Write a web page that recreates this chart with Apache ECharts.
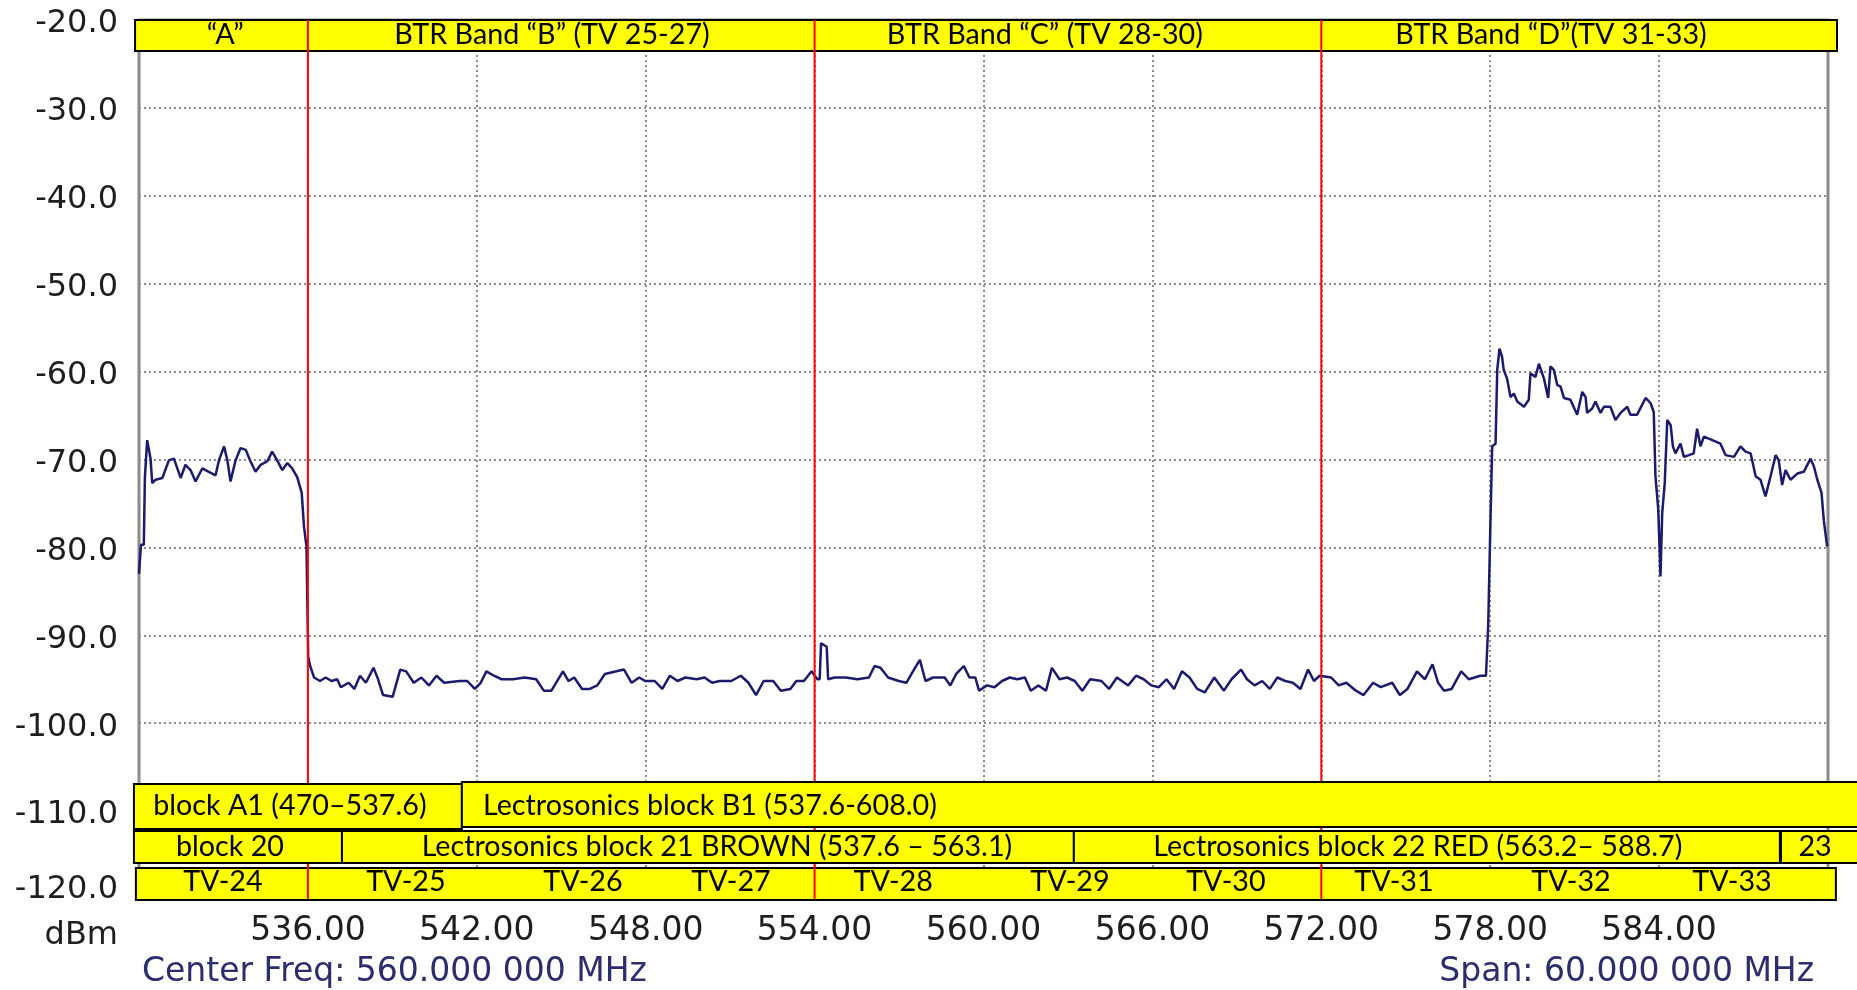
<!DOCTYPE html>
<html><head><meta charset="utf-8">
<script src="https://cdn.jsdelivr.net/npm/echarts@6/dist/echarts.min.js"></script>
<style>html,body{margin:0;padding:0;background:#fff;overflow:hidden}#c{width:1857px;height:990px}</style>
</head><body><div id="c"></div>
<script>
// ---------------- DATA ----------------
const traceMHz = [530.0,530.06,530.07,530.17,530.21,530.29,530.41,530.47,530.59,530.83,531.06,531.24,531.48,531.65,531.83,532.01,532.25,532.48,532.72,532.84,533.02,533.14,533.25,533.43,533.61,533.79,533.96,534.14,534.32,534.56,534.73,534.91,535.09,535.27,535.44,535.62,535.78,535.86,535.95,536.01,536.09,
536.22,536.43,536.63,536.84,537.04,537.17,537.45,537.65,537.85,538.06,538.33,538.47,538.67,539.01,539.28,539.49,539.76,540.03,540.30,540.57,540.84,541.39,541.66,541.93,542.14,542.34,542.61,542.88,543.29,543.70,544.11,544.38,544.65,545.06,545.26,545.46,545.74,546.01,546.28,546.55,546.96,547.23,547.50,547.77,547.98,548.32,548.59,548.86,549.13,549.41,549.81,550.09,550.36,550.63,551.04,551.38,551.65,551.92,552.19,552.53,552.80,553.14,553.35,553.62,553.89,554.10,554.18,554.23,554.43,554.48,554.71,555.11,555.52,555.93,556.13,556.34,556.61,556.99,
557.26,557.53,557.74,557.94,558.21,558.62,558.82,559.03,559.30,559.50,559.71,559.84,560.12,560.39,560.66,560.93,561.20,561.47,561.68,561.95,562.22,562.43,562.70,562.97,563.24,563.51,563.79,564.19,564.46,564.74,565.14,565.42,565.69,565.96,566.23,566.50,566.77,567.05,567.32,567.59,567.86,568.20,568.54,568.81,569.15,569.36,569.63,569.90,570.17,570.44,570.72,570.99,571.26,571.53,571.74,571.94,572.35,572.62,572.89,573.23,573.50,573.84,574.11,574.52,574.79,575.06,575.40,575.68,575.95,576.15,576.36,576.63,576.97,577.24,577.65,577.85,
577.93,578.01,578.07,578.19,578.25,578.33,578.42,578.48,578.60,578.72,578.84,578.96,579.20,579.37,579.43,579.61,579.73,579.91,580.06,580.14,580.26,580.38,580.50,580.62,580.85,581.09,581.27,581.39,581.44,581.62,581.74,581.92,582.04,582.27,582.45,582.63,582.87,582.98,583.22,583.52,583.70,583.81,583.87,583.97,584.05,584.11,584.20,584.29,584.41,584.49,584.58,584.76,584.88,585.06,585.23,585.35,585.47,585.59,585.89,586.18,586.36,586.66,586.89,587.07,587.25,587.43,587.60,587.78,587.96,588.14,588.25,588.37,588.49,588.67,588.91,589.14,589.38,589.50,589.62,589.77,589.85,589.97];
const traceDBm = [-83.0,-83.0,-79.7,-79.7,-72.0,-67.8,-69.9,-72.7,-72.3,-72.1,-70.1,-69.9,-72.1,-70.6,-71.2,-72.5,-71.0,-71.4,-71.8,-70.1,-68.5,-70.1,-72.5,-70.1,-68.7,-68.9,-70.2,-71.4,-70.6,-70.2,-69.1,-70.1,-71.2,-70.4,-71.0,-72.0,-73.8,-77.6,-79.9,-92.4,-93.6,
-94.8,-95.2,-94.8,-95.2,-95.0,-95.9,-95.4,-96.1,-94.6,-95.4,-93.7,-94.8,-96.8,-97.0,-93.9,-94.1,-95.4,-94.8,-95.7,-94.6,-95.4,-95.2,-95.2,-96.1,-95.4,-94.1,-94.6,-95.0,-95.0,-94.8,-95.0,-96.3,-96.3,-94.1,-95.2,-94.8,-96.1,-96.1,-95.7,-94.4,-94.1,-93.9,-95.4,-94.8,-95.2,-95.2,-96.1,-94.6,-95.2,-94.8,-95.0,-94.8,-95.4,-95.2,-95.2,-94.6,-95.4,-96.8,-95.2,-95.2,-96.3,-96.1,-95.2,-95.2,-94.1,-95.0,-95.0,-90.9,-91.3,-95.0,-94.8,-94.8,-95.0,-94.8,-93.5,-93.7,-94.8,-95.2,
-95.4,-93.9,-92.8,-95.2,-94.8,-94.8,-95.7,-94.4,-93.5,-94.8,-94.8,-96.3,-95.7,-95.9,-95.2,-94.8,-95.0,-94.8,-96.3,-95.7,-96.3,-93.7,-95.0,-94.8,-95.2,-96.3,-95.0,-95.2,-96.1,-94.8,-95.7,-94.6,-95.0,-95.7,-95.9,-95.0,-96.1,-94.1,-94.8,-96.1,-96.5,-94.8,-96.3,-95.0,-93.9,-95.0,-95.7,-95.2,-96.1,-94.8,-95.2,-95.4,-96.1,-93.9,-95.2,-94.6,-94.8,-95.7,-95.4,-96.3,-96.8,-95.4,-95.9,-95.4,-96.8,-96.1,-94.1,-95.0,-93.3,-95.4,-96.3,-96.1,-94.1,-95.0,-94.6,-94.6,
-88.8,-76.9,-68.5,-68.2,-59.8,-57.4,-58.3,-59.8,-60.8,-62.9,-62.5,-63.4,-64.0,-63.2,-60.2,-60.6,-59.1,-60.8,-63.0,-59.4,-59.8,-61.5,-61.7,-63.0,-63.2,-64.9,-62.3,-62.9,-64.7,-64.2,-63.4,-64.7,-64.0,-64.0,-65.5,-64.7,-64.0,-64.9,-64.9,-63.0,-63.6,-64.6,-71.9,-75.7,-83.3,-76.1,-72.7,-65.5,-66.1,-68.5,-69.3,-68.2,-69.7,-69.5,-69.3,-66.5,-68.5,-67.4,-67.8,-68.2,-69.5,-69.7,-68.5,-69.1,-69.3,-71.9,-72.3,-74.2,-71.9,-69.5,-70.1,-72.9,-71.2,-72.3,-71.6,-71.4,-69.9,-70.8,-72.3,-73.8,-76.9,-79.9];

const bandEdgesMHz = [536, 554, 572];
const topBandLabels = ['\u201CA\u201D', 'BTR Band \u201CB\u201D (TV 25-27)', 'BTR Band \u201CC\u201D (TV 28-30)', 'BTR Band \u201CD\u201D(TV 31-33)'];
const blockRow1Labels = ['block A1 (470\u2013537.6)', 'Lectrosonics block B1 (537.6-608.0)'];
const blockRow2Labels = ['block 20', 'Lectrosonics block 21 BROWN (537.6 \u2013 563.1)', 'Lectrosonics block 22 RED (563.2\u2013 588.7)', '23'];
const tvLabels = ['TV-24','TV-25','TV-26','TV-27','TV-28','TV-29','TV-30','TV-31','TV-32','TV-33'];
const yUnitLabel = 'dBm';
const footerLabels = ['Center Freq: 560.000 000 MHz', 'Span: 60.000 000 MHz'];

// ---------------- LAYOUT (axis units) ----------------
const L = {
  top:  { x: [529.86, 590.32], y: [-20, -23.53], tx: [533.06, 544.67, 562.18, 580.16], ty: -21.71 },
  row1: { boxes: [[529.82, 541.47, -106.92, -112.04], [541.47, 591.5, -106.69, -111.81]], tx: [535.36, 542.22], align: ['center', 'left'], ty: -109.42 },
  row2: { boxes: [[529.82, 537.21], [537.21, 563.21], [563.21, 588.29], [588.33, 591.5]], y: [-112.26, -115.9], tx: [533.23, 550.53, 575.43, 589.54], ty: -114.08 },
  tv:   { x: [529.89, 590.28], y: [-116.47, -120.11], tx: [532.98, 539.48, 545.77, 551.03, 556.79, 563.07, 568.61, 574.58, 580.87, 586.59], ty: -118.07 }
};
const BOX_FONT = 'Lato';
const BOX_SIZE = 28.7;

function box(api, x0, x1, y0, y1) {
  const a = api.coord([x0, y0]), b = api.coord([x1, y1]);
  return { type: 'rect', shape: { x: Math.min(a[0], b[0]), y: Math.min(a[1], b[1]), width: Math.abs(b[0] - a[0]), height: Math.abs(b[1] - a[1]) },
    style: { fill: '#ffff00', stroke: '#000', lineWidth: 2 } };
}
function label(api, text, x, y, align) {
  const p = api.coord([x, y]);
  return { type: 'text', x: p[0], y: p[1], style: { text: text, fill: '#000', fontSize: BOX_SIZE, fontFamily: BOX_FONT, align: align || 'center', verticalAlign: 'middle' } };
}

const chart = echarts.init(document.getElementById('c'), null, { renderer: 'canvas' });
const axisFont = 'DejaVu Sans';
const AX = 33;

chart.setOption({
  animation: false,
  backgroundColor: '#ffffff',
  grid: { left: 139, right: 29, top: 20, bottom: 91, show: true, borderColor: '#8a8a8a', borderWidth: 3, backgroundColor: 'transparent' },
  xAxis: {
    type: 'value', min: 530, max: 590, interval: 6,
    axisLine: { show: false }, axisTick: { show: false },
    splitLine: { show: true, lineStyle: { color: '#8c8c8c', width: 2, type: [2, 3] } },
    axisLabel: { showMinLabel: false, showMaxLabel: false, margin: 16, color: '#1e1e1e', fontFamily: axisFont, fontSize: AX,
      formatter: v => v.toFixed(2) }
  },
  yAxis: {
    type: 'value', min: -120, max: -20, interval: 10,
    axisLine: { show: false }, axisTick: { show: false },
    splitLine: { show: true, lineStyle: { color: '#8c8c8c', width: 2, type: [2, 3] } },
    axisLabel: { margin: 21, color: '#1e1e1e', fontFamily: axisFont, fontSize: 32,
      formatter: v => v === -120 ? '{lo|' + v.toFixed(1) + '}' : '{n|' + v.toFixed(1) + '}',
      rich: {
        n: { fontFamily: axisFont, fontSize: 32, color: '#1e1e1e', padding: [8, 0, 0, 0] },
        lo: { fontFamily: axisFont, fontSize: 32, color: '#1e1e1e', padding: [0, 0, 18, 0] }
      } }
  },
  graphic: [
    { type: 'text', right: 1857 - 118, top: 939 - 19, style: { text: yUnitLabel, fill: '#1e1e1e', font: '32px "DejaVu Sans"' } },
    { type: 'text', left: 142, top: 976 - 20, style: { text: footerLabels[0], fill: '#2b2d6e', font: AX + 'px "DejaVu Sans"' } },
    { type: 'text', right: 1857 - 1814, top: 976 - 20, style: { text: footerLabels[1], fill: '#2b2d6e', font: AX + 'px "DejaVu Sans"' } }
  ],
  series: [
    {
      type: 'line', z: 2, showSymbol: false, symbol: 'none', clip: true,
      data: traceMHz.map((f, i) => [f, traceDBm[i]]),
      lineStyle: { color: '#1b1b6e', width: 2.5 }
    },
    {
      type: 'custom', z: 3, clip: false, silent: true,
      data: [[560, -70]],
      renderItem: function (params, api) {
        const ch = [];
        ch.push(box(api, L.top.x[0], L.top.x[1], L.top.y[0], L.top.y[1]));
        topBandLabels.forEach((t, i) => ch.push(label(api, t, L.top.tx[i], L.top.ty)));
        ch.push(box(api, L.tv.x[0], L.tv.x[1], L.tv.y[0], L.tv.y[1]));
        tvLabels.forEach((t, i) => ch.push(label(api, t, L.tv.tx[i], L.tv.ty)));
        return { type: 'group', children: ch };
      }
    },
    {
      type: 'custom', z: 4, clip: false, silent: true,
      data: bandEdgesMHz.map(v => [v, -20]),
      renderItem: function (params, api) {
        const a = api.coord([api.value(0), -20]), b = api.coord([api.value(0), -120]);
        return { type: 'line', shape: { x1: a[0], y1: a[1], x2: b[0], y2: b[1] }, style: { stroke: '#ff0000', lineWidth: 2 } };
      }
    },
    {
      type: 'custom', z: 5, clip: false, silent: true,
      data: [[560, -70]],
      renderItem: function (params, api) {
        const ch = [];
        L.row1.boxes.forEach(b => ch.push(box(api, b[0], b[1], b[2], b[3])));
        blockRow1Labels.forEach((t, i) => ch.push(label(api, t, L.row1.tx[i], L.row1.ty, L.row1.align[i])));
        L.row2.boxes.forEach(b => ch.push(box(api, b[0], b[1], L.row2.y[0], L.row2.y[1])));
        blockRow2Labels.forEach((t, i) => ch.push(label(api, t, L.row2.tx[i], L.row2.ty)));
        return { type: 'group', children: ch };
      }
    }
  ]
});
</script></body></html>
